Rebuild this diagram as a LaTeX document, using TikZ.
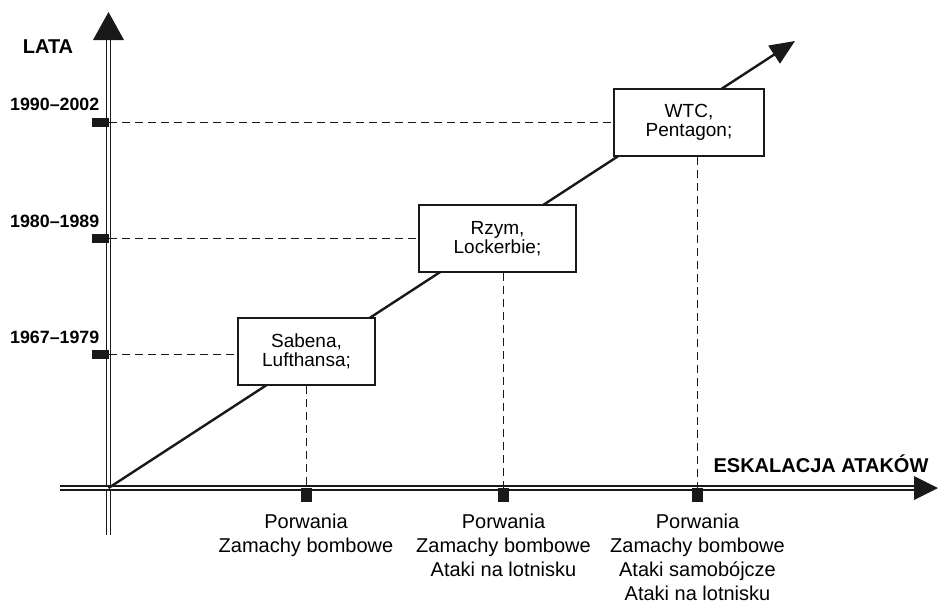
\documentclass[tikz,border=0pt]{standalone}
\usepackage{fontspec}
\setmainfont{Liberation Sans}
\usetikzlibrary{arrows.meta}
\begin{document}
\begin{tikzpicture}[x=1pt,y=-1pt,
  axisline/.style={double, draw=black!90, line width=1.5pt, double distance=2.2pt},
  headfill/.style={fill=black!90},
  guide/.style={draw=black!90, line width=1pt, dash pattern=on 8pt off 5pt},
  diag/.style={draw=black!90, line width=2.4pt, -{Triangle[length=25pt,width=21pt]}},
  box/.style={draw=black!90, line width=1.8pt, fill=white, minimum height=67pt,
    align=center, inner sep=0pt, font=\fontsize{19}{19.5}\selectfont},
  ytickbox/.style={fill=black!90, minimum width=17pt, minimum height=9pt, inner sep=0pt},
  xtickbox/.style={fill=black!90, minimum width=11pt, minimum height=14pt, inner sep=0pt},
  lbl/.style={align=center, inner sep=0pt, anchor=north, font=\fontsize{20}{24}\selectfont},
  yearlbl/.style={inner sep=0pt, anchor=base east, font=\bfseries\fontsize{17.8}{20}\selectfont},
  title/.style={inner sep=0pt, anchor=base, font=\bfseries\fontsize{20}{22}\selectfont}]
\useasboundingbox[fill=white] (0,0) rectangle (941,605);

% axes
\coordinate (O) at (108.5,488);
\coordinate (ybot) at (108.5,535);
\coordinate (ytop) at (108.5,40);
\coordinate (xleft) at (60,488);
\coordinate (xright) at (915,488);
\draw[axisline] (ybot) -- (ytop);
\draw[axisline] (xleft) -- (xright);
\fill[headfill] (93,40) -- (124,40) -- (108.5,12) -- cycle;
\fill[headfill] (914,476) -- (914,500) -- (938,488) -- cycle;

% diagonal escalation line
\coordinate (D) at (795,41);
\draw[diag] (O) -- (D);

% boxes
\node[box, minimum width=137pt] (b1) at (306.5,351.5) {Sabena,\\Lufthansa;};
\node[box, minimum width=157pt] (b2) at (497.5,238.5) {Rzym,\\Lockerbie;};
\node[box, minimum width=150pt] (b3) at (689,122.5) {WTC,\\Pentagon;};

% ticks on vertical axis
\node[ytickbox] (y3) at (100.5,122) {};
\node[ytickbox] (y2) at (100.5,238) {};
\node[ytickbox] (y1) at (100.5,354) {};
% ticks on horizontal axis
\node[xtickbox] (x1) at (306,495) {};
\node[xtickbox] (x2) at (503.5,495) {};
\node[xtickbox] (x3) at (697.5,495) {};

% dashed guides
\draw[guide] (y3.east) -- (y3.east -| b3.west);
\draw[guide] (y2.east) -- (y2.east -| b2.west);
\draw[guide] (y1.east) -- (y1.east -| b1.west);
\draw[guide] (b1.south -| x1.north) -- (x1.north);
\draw[guide] (b2.south -| x2.north) -- (x2.north);
\draw[guide] (b3.south -| x3.north) -- (x3.north);

% axis titles
\node[title] (lata) at (48,53) {LATA};
\node[title] (eskal) at (821,472) {ESKALACJA ATAKÓW};

% years
\node[yearlbl] (t3) at (99.5,110) {1990–2002};
\node[yearlbl] (t2) at (99.5,227) {1980–1989};
\node[yearlbl] (t1) at (99.5,343) {1967–1979};

% bottom labels
\node[lbl] (l1) at (306,514) {Porwania\\Zamachy bombowe};
\node[lbl] (l2) at (503.5,514) {Porwania\\Zamachy bombowe\\Ataki na lotnisku};
\node[lbl] (l3) at (697.5,514) {Porwania\\Zamachy bombowe\\Ataki samobójcze\\Ataki na lotnisku};
\end{tikzpicture}
\end{document}
